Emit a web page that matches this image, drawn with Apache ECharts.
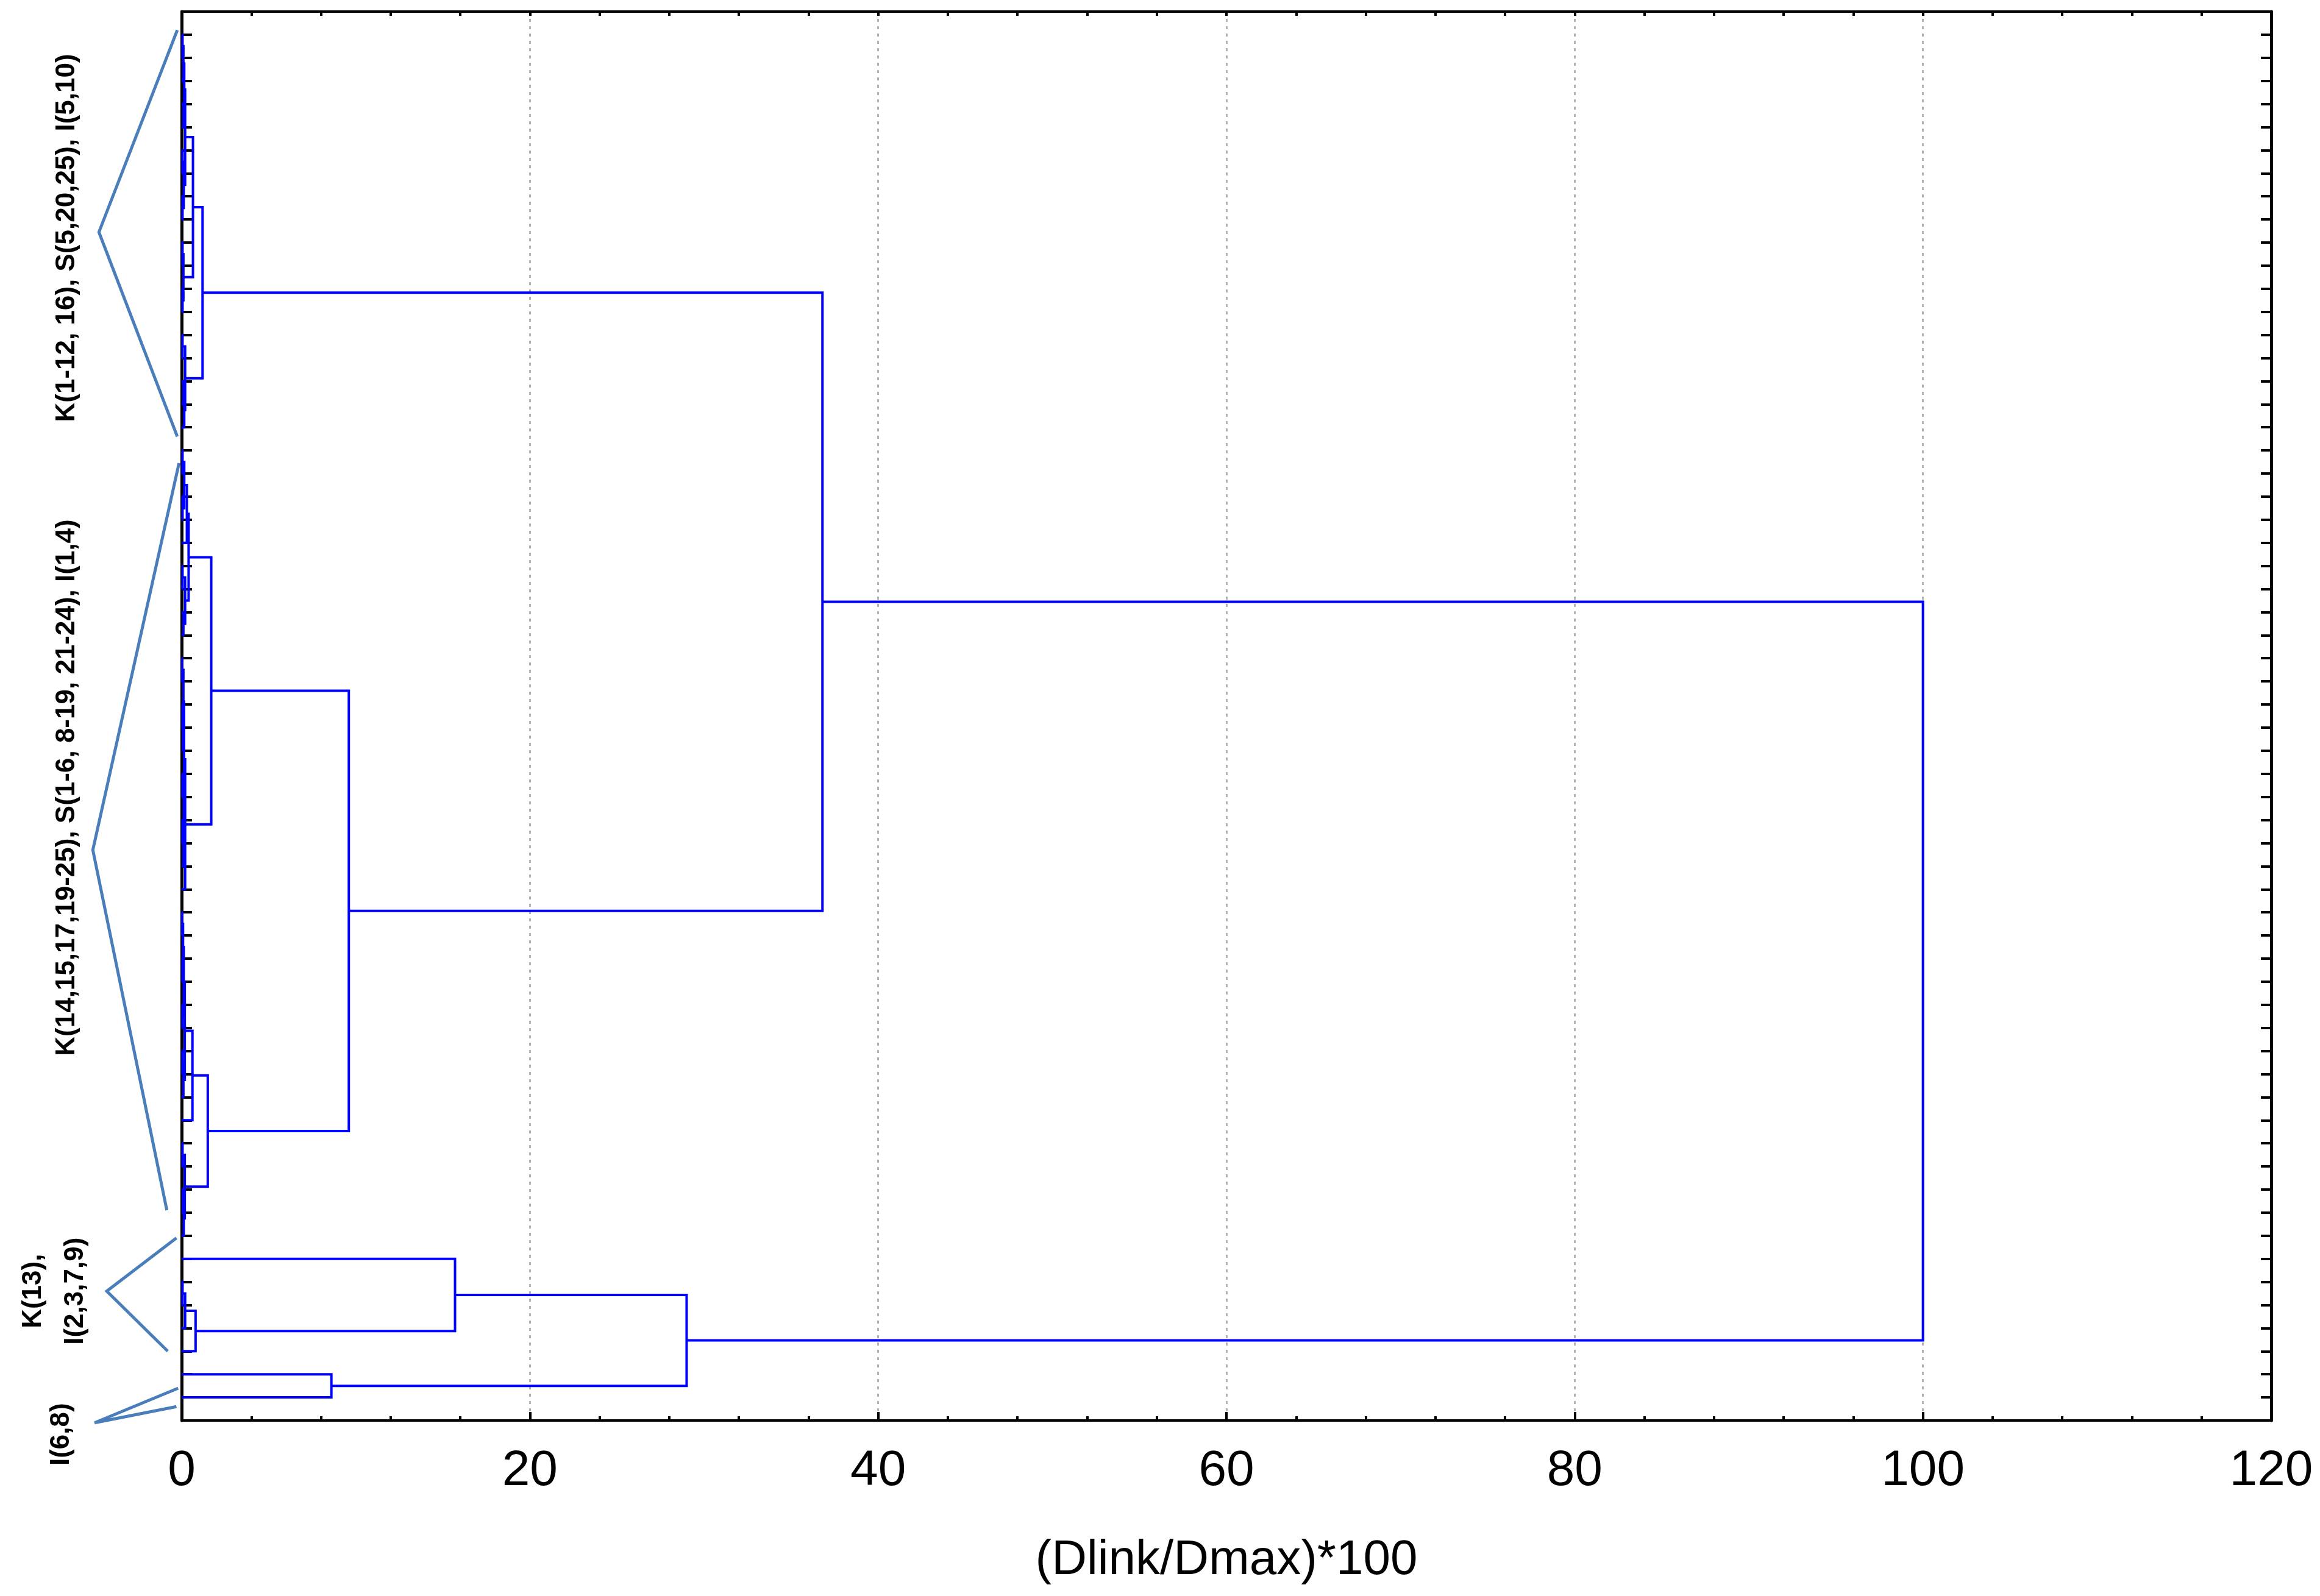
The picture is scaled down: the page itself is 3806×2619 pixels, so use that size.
<!DOCTYPE html>
<html>
<head>
<meta charset="utf-8">
<script src="https://cdn.jsdelivr.net/npm/echarts@6/dist/echarts.min.js"></script>
<style>
  html, body { margin: 0; padding: 0; background: #fff; }
  #main { width: 3806px; height: 2619px; }
</style>
</head>
<body>
<div id="main"></div>
<script>
// leaves are numbered 1..60 from top to bottom (position on the y axis)
var leafCount = 60;

// merges: [name, left child, right child, linkage distance (Dlink/Dmax)*100]
// numbers are leaves, strings are earlier merges
var mergesGroup1 = [
  ["a1", 1, 2, 0.05], ["a2", "a1", 3, 0.1], ["a3", 4, 5, 0.1], ["a4", "a2", "a3", 0.15],
  ["a5", 6, 7, 0.05], ["a6", 8, 9, 0.05], ["a7", "a5", "a6", 0.12], ["a8", "a4", "a7", 0.2],
  ["a9", 10, 11, 0.05], ["a10", 12, 13, 0.05], ["a11", "a9", "a10", 0.1], ["a12", "a8", "a11", 0.65],
  ["a13", 14, 15, 0.05], ["a14", 16, 17, 0.1], ["a15", "a14", 18, 0.15], ["a16", "a13", "a15", 0.2],
  ["G1", "a12", "a16", 1.2]
];
var mergesGroup2 = [
  ["b1", 19, 20, 0.05], ["b2", 21, 22, 0.05], ["b3", "b1", "b2", 0.15], ["b4", "b3", 23, 0.3],
  ["b5", 24, 25, 0.05], ["b6", 26, 27, 0.1], ["b7", "b5", "b6", 0.2], ["T", "b4", "b7", 0.4],
  ["b8", 28, 29, 0.03], ["b9", 30, 31, 0.05], ["b10", "b9", 32, 0.08], ["b11", "b8", "b10", 0.1],
  ["b12", 33, 34, 0.05], ["b13", 35, 36, 0.05], ["b14", "b13", 37, 0.1], ["b15", "b12", "b14", 0.12],
  ["b16", "b11", "b15", 0.14], ["B", "b16", 38, 0.2], ["P", "T", "B", 1.7],
  ["c1", 39, 40, 0.03], ["c2", 41, 42, 0.05], ["c3", "c1", "c2", 0.08], ["c4", 43, 44, 0.05],
  ["c5", "c3", "c4", 0.12], ["c6", 45, 46, 0.05], ["c7", "c6", 47, 0.1], ["c8", "c5", "c7", 0.18],
  ["c9", "c8", 48, 0.62],
  ["c10", 49, 50, 0.05], ["c11", 51, 52, 0.08], ["c12", "c11", 53, 0.12], ["c13", "c10", "c12", 0.18],
  ["Q", "c9", "c13", 1.5], ["G2", "P", "Q", 9.6]
];
var mergesGroup34 = [
  ["d1", 55, 56, 0.05], ["d2", "d1", 57, 0.2], ["d3", "d2", 58, 0.8], ["G3", 54, "d3", 15.7],
  ["G4", 59, 60, 8.6], ["G34", "G3", "G4", 29.0]
];
var mergesTop = [
  ["G12", "G1", "G2", 36.8], ["root", "G12", "G34", 100]
];

// x axis tick labels
var xTicks = [0, 20, 40, 60, 80, 100, 120];
var xTitle = "(Dlink/Dmax)*100";

// group brackets at the left: [top point, apex, bottom point] in axis units
var brackets = [
  [[-0.25, 0.8], [-4.75, 9.55], [-0.25, 18.4]],
  [[-0.15, 19.55], [-5.1, 36.3], [-0.85, 51.9]],
  [[-0.3, 53.1], [-4.3, 55.4], [-0.8, 58.0]],
  [[-0.2, 59.6], [-5.0, 61.1], [-0.3, 60.4]]
];
// group labels: [text, x, y] in axis units
var groupLabels = [
  ["K(1-12, 16), S(5,20,25), I(5,10)", -6.6, 9.8],
  ["K(14,15,17,19-25), S(1-6, 8-19, 21-24), I(1,4)", -6.6, 33.6],
  ["K(13),", -8.5, 55.4],
  ["I(2,3,7,9)", -6.1, 55.4],
  ["I(6,8)", -6.9, 61.6]
];

// build dendrogram segments
var merges = mergesGroup1.concat(mergesGroup2, mergesGroup34, mergesTop);
var nodes = {};
function nodeOf(c) {
  if (typeof c === "number") return { y: c, h: 0 };
  return nodes[c];
}
var links = [];
merges.forEach(function(m) {
  var l = nodeOf(m[1]), r = nodeOf(m[2]), h = m[3];
  links.push({ coords: [[l.h, l.y], [h, l.y], [h, r.y], [r.h, r.y]] });
  nodes[m[0]] = { y: (l.y + r.y) / 2, h: h };
});

var tickStyle = { color: "#000", width: 4 };
var chart = echarts.init(document.getElementById("main"));
var option = {
  backgroundColor: "#fff",
  animation: false,
  grid: { left: 298, right: 80, top: 19, bottom: 288, containLabel: false },
  xAxis: [
    {
      type: "value", min: 0, max: 120, interval: 20, position: "bottom",
      name: xTitle, nameLocation: "middle", nameGap: 190,
      nameTextStyle: { fontFamily: "Liberation Sans", fontSize: 80, color: "#000" },
      axisLine: { show: true, onZero: false, lineStyle: { color: "#000", width: 4 } },
      axisTick: { show: true, inside: true, length: 14, lineStyle: tickStyle },
      minorTick: { show: true, splitNumber: 5, length: 7, lineStyle: tickStyle },
      axisLabel: { margin: 42, fontFamily: "Liberation Sans", fontSize: 82, color: "#000",
        formatter: function(v) { return xTicks.indexOf(v) >= 0 ? String(v) : ""; } },
      splitLine: { show: true, lineStyle: { color: "#b4b4b4", width: 3, type: [5, 7] } }
    },
    {
      type: "value", min: 0, max: 120, interval: 20, position: "top",
      axisLine: { show: true, onZero: false, lineStyle: { color: "#000", width: 4 } },
      axisTick: { show: true, inside: true, length: 7, lineStyle: tickStyle },
      minorTick: { show: true, splitNumber: 5, length: 7, lineStyle: tickStyle },
      axisLabel: { show: false }, splitLine: { show: false }
    }
  ],
  yAxis: [
    {
      type: "value", min: 0, max: leafCount + 1, interval: 1, inverse: true, position: "left",
      axisLine: { show: true, onZero: false, lineStyle: { color: "#000", width: 5 } },
      axisTick: { show: true, inside: true, length: 17, lineStyle: tickStyle },
      axisLabel: { show: false }, splitLine: { show: false }
    },
    {
      type: "value", min: 0, max: leafCount + 1, interval: 1, inverse: true, position: "right",
      axisLine: { show: true, onZero: false, lineStyle: { color: "#000", width: 5 } },
      axisTick: { show: true, inside: true, length: 17, lineStyle: tickStyle },
      axisLabel: { show: false }, splitLine: { show: false }
    }
  ],
  series: [
    {
      type: "lines", coordinateSystem: "cartesian2d", polyline: true,
      lineStyle: { color: "#0000ff", width: 4, opacity: 1 },
      data: links, z: 3
    }
  ]
};
chart.setOption(option);

// brackets and group labels left of the axis
var graphics = [];
brackets.forEach(function(b) {
  var pts = b.map(function(p) { return chart.convertToPixel({ gridIndex: 0 }, p); });
  graphics.push({ type: "polyline", shape: { points: pts }, z: 10,
    style: { stroke: "#4a7ebb", lineWidth: 5, fill: null } });
});
groupLabels.forEach(function(g) {
  var p = chart.convertToPixel({ gridIndex: 0 }, [g[1], g[2]]);
  graphics.push({ type: "text", x: p[0], y: p[1], rotation: Math.PI / 2, z: 10,
    style: { text: g[0], fontFamily: "Liberation Sans Narrow, Liberation Sans", fontWeight: "bold",
      fontSize: 44, fill: "#000", textAlign: "center", textVerticalAlign: "middle" } });
});
chart.setOption({ graphic: graphics });
</script>
</body>
</html>
